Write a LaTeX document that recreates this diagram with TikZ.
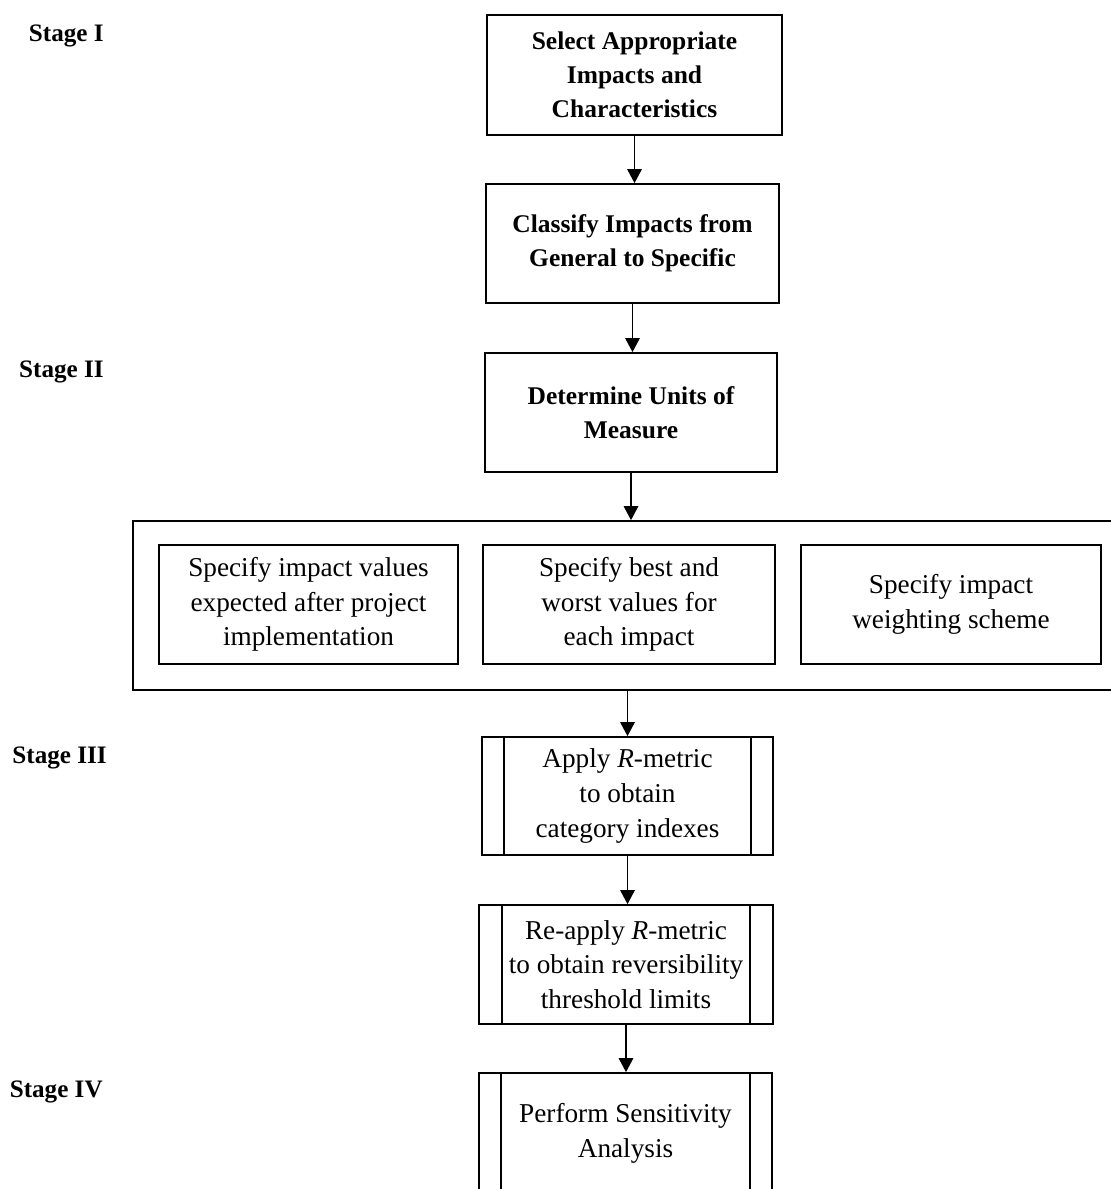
\documentclass[tikz,border=0pt]{standalone}
\usepackage{fontspec}
\setmainfont{Liberation Serif}
\usetikzlibrary{arrows.meta}
\begin{document}
\begin{tikzpicture}[x=0.02cm,y=-0.02cm,>={Triangle[width=0.29cm,length=0.28cm]},
  box/.style={draw,line width=1pt,inner sep=0pt,align=center},
  topbox/.style={box,font=\fontsize{14.5}{19.5}\selectfont\bfseries},
  lowbox/.style={box,font=\fontsize{15.5}{19.8}\selectfont},
  stagelbl/.style={anchor=base east,inner sep=0pt,font=\fontsize{14.3}{17}\selectfont\bfseries},
  flow/.style={->,line width=0.8pt}]
  \clip (0,0) rectangle (1111,1189);
  \node[stagelbl] (s1) at (104,42) {Stage I};
  \node[stagelbl] (s2) at (104,377) {Stage II};
  \node[stagelbl] (s3) at (107,763) {Stage III};
  \node[stagelbl] (s4) at (103,1097) {Stage IV};
  \node[topbox,minimum width=5.9cm,minimum height=2.4cm] (b1) at (634.5,75) {Select Appropriate\\Impacts and\\Characteristics};
  \node[topbox,minimum width=5.86cm,minimum height=2.38cm] (b2) at (632.5,243.5) {Classify Impacts from\\General to Specific};
  \node[topbox,minimum width=5.84cm,minimum height=2.38cm] (b3) at (631,412.5) {Determine Units of\\Measure};
  \node[box,minimum width=19.94cm,minimum height=3.38cm] (grp) at (631.5,605.5) {};
  \node[lowbox,minimum width=5.98cm,minimum height=2.38cm] (va) at (308.5,604.5) {Specify impact values\\expected after project\\implementation};
  \node[lowbox,minimum width=5.84cm,minimum height=2.38cm] (vb) at (629,604.5) {Specify best and\\worst values for\\each impact};
  \node[lowbox,minimum width=6cm,minimum height=2.38cm] (vc) at (951,604.5) {Specify impact\\weighting scheme};
  \node[lowbox,minimum width=5.82cm,minimum height=2.36cm] (d) at (627.5,796) {Apply \textit{R}-metric\\to obtain\\category indexes};
  \node[lowbox,minimum width=5.88cm,minimum height=2.38cm] (e) at (626,964.5) {Re-apply \textit{R}-metric\\to obtain reversibility\\threshold limits};
  \node[lowbox,minimum width=5.86cm,minimum height=2.4cm] (f) at (625.5,1133) {Perform Sensitivity\\Analysis};
  \foreach \n/\o in {d/0.46,e/0.48,f/0.46} {
    \draw[line width=1pt] ([xshift=\o cm]\n.north west) -- ([xshift=\o cm]\n.south west);
    \draw[line width=1pt] ([xshift=-\o cm]\n.north east) -- ([xshift=-\o cm]\n.south east);
  }
  \draw[flow] (b1.south) -- (b1.south |- b2.north);
  \draw[flow] (b2.south) -- (b2.south |- b3.north);
  \draw[flow] (b3.south) -- (b3.south |- grp.north);
  \draw[flow] (d.north |- grp.south) -- (d.north);
  \draw[flow] (d.south) -- (d.south |- e.north);
  \draw[flow] (e.south) -- (e.south |- f.north);
\end{tikzpicture}
\end{document}
